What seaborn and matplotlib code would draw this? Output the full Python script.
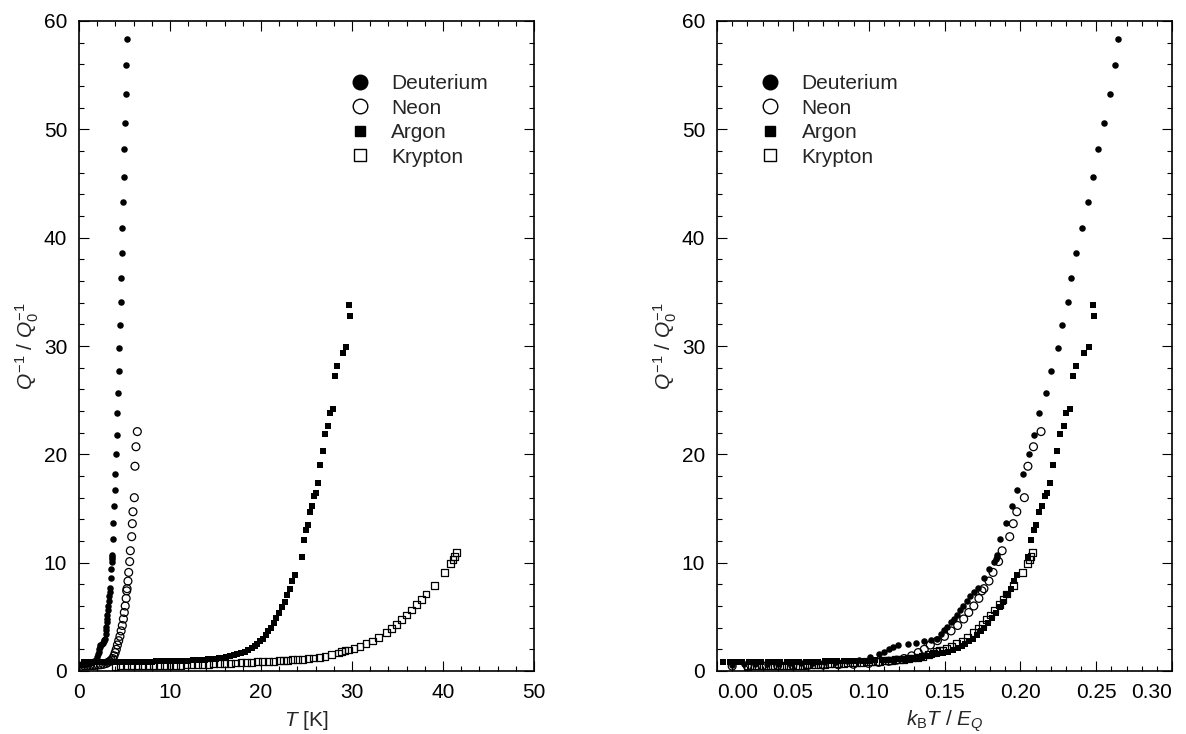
import numpy as np
import matplotlib
matplotlib.use('Agg')
import matplotlib.pyplot as plt
from matplotlib.ticker import MultipleLocator
from matplotlib.lines import Line2D
import seaborn as sns

# Q^-1 / Q0^-1 versus T [K]
deut_T = [0.2, 0.35, 0.5, 0.65, 0.8, 0.95, 1.1, 1.25, 1.4, 1.55, 1.7, 1.85, 2.0,
          2.12, 2.18, 2.24, 2.30, 2.36,
          2.5, 2.6, 2.7, 2.8, 2.87, 2.92, 2.96, 3.00, 3.05, 3.09, 3.13, 3.17, 3.21, 3.26,
          3.30, 3.36, 3.41, 3.48, 3.55, 3.62, 3.64, 3.65, 3.66,
          3.70, 3.77, 3.85, 3.92, 3.99, 4.07, 4.14, 4.21, 4.29, 4.36, 4.45, 4.51, 4.58,
          4.62, 4.69, 4.76, 4.84, 4.91, 4.98, 5.05, 5.13, 5.20, 5.24]
deut_Q = [0.60, 0.62, 0.65, 0.63, 0.68, 0.70, 0.72, 0.75, 0.80, 0.85, 0.95, 1.05, 1.25,
          1.6, 1.8, 2.0, 2.2, 2.4,
          2.45, 2.6, 2.75, 2.85, 3.0, 3.4, 3.8, 4.1, 4.5, 4.8, 5.2, 5.6, 6.0, 6.5,
          6.9, 7.3, 7.7, 8.6, 9.4, 10.1, 10.3, 10.5, 10.7,
          12.2, 13.7, 15.2, 16.7, 18.2, 20.0, 21.8, 23.8, 25.7, 27.7, 29.8, 31.9, 34.1,
          36.3, 38.6, 40.9, 43.3, 45.6, 48.2, 50.6, 53.3, 55.9, 58.3]

neon_T = [0.3, 0.6, 0.9, 1.2, 1.5, 1.8, 2.1, 2.4, 2.7, 3.0, 3.2, 3.4, 3.55,
          3.7, 3.85, 3.98, 4.1, 4.22, 4.36, 4.5, 4.63, 4.76, 4.88, 4.98, 5.08, 5.18,
          5.24, 5.28, 5.38, 5.46, 5.57, 5.64, 5.79, 5.86, 5.93, 6.08, 6.15, 6.26, 6.41]
neon_Q = [0.45, 0.47, 0.48, 0.50, 0.50, 0.52, 0.55, 0.58, 0.62, 0.70, 0.80, 0.90, 1.0,
          1.15, 1.4, 1.7, 2.0, 2.4, 2.8, 3.2, 3.7, 4.2, 4.8, 5.4, 6.0, 6.7,
          7.4, 7.6, 8.3, 9.1, 10.1, 11.1, 12.4, 13.6, 14.7, 16.0, 18.9, 20.7, 22.1]

argon_T = [0.5, 1.0, 1.5, 2.0, 2.5, 3.0, 3.5, 4.0, 4.5, 5.0, 5.5, 6.0, 6.5, 7.0, 7.5,
           8.0, 8.5, 9.0, 9.5, 10.0, 10.5, 11.0, 11.5, 12.0, 12.5, 13.0,
           13.4, 13.8, 14.2, 14.6, 15.0, 15.4, 15.8, 16.2, 16.6, 17.0, 17.4, 17.8, 18.2,
           18.6, 19.0, 19.3, 19.6, 19.9, 20.2, 20.5, 20.8, 21.1, 21.4, 21.7, 22.0, 22.3,
           22.6, 22.9, 23.2, 23.45, 23.7,
           24.54, 24.76, 24.98, 25.20, 25.42, 25.64, 25.86, 26.04, 26.30, 26.52, 26.85,
           27.07, 27.40, 27.55, 27.88, 28.12, 28.36, 28.98, 29.37, 29.70, 29.77]
argon_Q = [0.80, 0.80, 0.82, 0.82, 0.83, 0.83, 0.84, 0.84, 0.85, 0.85, 0.85, 0.86, 0.86,
           0.86, 0.87, 0.87, 0.88, 0.88, 0.89, 0.90, 0.91, 0.92, 0.93, 0.95, 0.97, 1.00,
           1.02, 1.05, 1.08, 1.11, 1.15, 1.19, 1.24, 1.30, 1.37, 1.45, 1.54, 1.64, 1.75,
           1.90, 2.1, 2.3, 2.5, 2.75, 3.0, 3.3, 3.65, 4.0, 4.45, 4.9, 5.4, 5.9,
           6.4, 7.0, 7.6, 8.3, 8.9,
           10.5, 12.1, 13.0, 13.5, 14.7, 15.2, 16.2, 16.4, 17.4, 19.0, 20.3,
           21.9, 22.6, 23.8, 24.2, 27.2, 28.2, 29.4, 29.9, 33.8, 32.8]

krypton_T = [4.0, 4.6, 5.2, 5.8, 6.4, 7.0, 7.6, 8.2, 8.8, 9.4, 10.0, 10.6, 11.2, 11.8,
             12.4, 13.0, 13.6, 14.2, 14.8, 15.4, 16.0, 16.6, 17.2, 17.8, 18.4, 19.0,
             19.6, 20.2, 20.8, 21.4, 22.0, 22.5, 22.9, 23.44, 23.99, 24.58, 25.20,
             25.75, 26.41, 27.03, 27.76, 28.5, 28.87, 29.23, 29.60, 30.22, 30.88, 31.54,
             32.27, 32.93, 33.74, 34.36, 34.91, 35.46, 36.0, 36.55, 37.11, 37.62, 38.13,
             39.04, 40.14, 40.8, 41.1, 41.3, 41.5]
krypton_Q = [0.45, 0.46, 0.46, 0.47, 0.47, 0.48, 0.49, 0.50, 0.51, 0.52, 0.53, 0.54,
             0.55, 0.57, 0.58, 0.60, 0.62, 0.64, 0.66, 0.68, 0.70, 0.72, 0.74, 0.77,
             0.79, 0.82, 0.84, 0.87, 0.90, 0.92, 0.94, 0.96, 0.99, 1.02, 1.05, 1.08,
             1.14, 1.20, 1.26, 1.35, 1.48, 1.66, 1.76, 1.85, 1.94, 2.09, 2.25, 2.50,
             2.77, 3.11, 3.54, 3.94, 4.31, 4.77, 5.17, 5.63, 6.16, 6.61, 7.11,
             7.85, 9.08, 9.94, 10.3, 10.6, 10.9]

# quantum energy scale E_Q / k_B in K for each gas
eq_deut, eq_neon, eq_argon, eq_krypton = 19.8, 30.0, 119.7, 199.5

gases = ['Deuterium', 'Neon', 'Argon', 'Krypton']
styles = {
    'Deuterium': dict(marker='o', s=22, color='black', edgecolor='black', linewidth=0),
    'Neon': dict(marker='o', s=32, facecolor='none', edgecolor='black', linewidth=0.9),
    'Argon': dict(marker='s', s=15, color='black', edgecolor='black', linewidth=0),
    'Krypton': dict(marker='s', s=25, facecolor='none', edgecolor='black', linewidth=0.9),
}
data = {
    'Deuterium': (np.array(deut_T), np.array(deut_Q), eq_deut),
    'Neon': (np.array(neon_T), np.array(neon_Q), eq_neon),
    'Argon': (np.array(argon_T), np.array(argon_Q), eq_argon),
    'Krypton': (np.array(krypton_T), np.array(krypton_Q), eq_krypton),
}

sns.set_style('ticks')
plt.rcParams['font.family'] = ['Liberation Sans', 'DejaVu Sans']
plt.rcParams['mathtext.fontset'] = 'custom'
plt.rcParams['mathtext.rm'] = 'Liberation Sans'
plt.rcParams['mathtext.it'] = 'Liberation Sans:italic'
fs = 15

fig = plt.figure(figsize=(11.86, 7.34), dpi=100)
ax1 = fig.add_axes([79 / 1186, 63 / 734, 455 / 1186, 650 / 734])
ax2 = fig.add_axes([717 / 1186, 63 / 734, 455 / 1186, 650 / 734])

for g in gases:
    T, Q, eq = data[g]
    sns.scatterplot(x=T, y=Q, ax=ax1, legend=False, **styles[g])
    sns.scatterplot(x=T / eq, y=Q, ax=ax2, legend=False, **styles[g])

ax1.xaxis.set_major_locator(MultipleLocator(10))
ax1.xaxis.set_minor_locator(MultipleLocator(2))
ax2.xaxis.set_minor_locator(MultipleLocator(0.01))
ax2.set_xticks([0.0, 0.05, 0.10, 0.15, 0.20, 0.25, 0.30])
lbls = ax2.set_xticklabels(['0.00', '0.05', '0.10', '0.15', '0.20', '0.25', '0.30'])
lbls[0].set_horizontalalignment('left')
lbls[-1].set_horizontalalignment('right')
ax1.set_xlim(0, 50)
ax2.set_xlim(0, 0.30)

for ax in (ax1, ax2):
    ax.set_ylim(0, 60)
    ax.yaxis.set_major_locator(MultipleLocator(10))
    ax.yaxis.set_minor_locator(MultipleLocator(2))
    ax.tick_params(which='both', direction='in', top=True, right=True,
                   labelsize=fs, colors='black')
    ax.tick_params(which='major', length=7, width=0.8, pad=8.5)
    ax.tick_params(which='minor', length=3.5, width=0.8)
    for sp in ax.spines.values():
        sp.set_linewidth(1.2)
        sp.set_color('black')
    ax.set_ylabel(r'$Q^{-1}$ / $Q_0^{-1}$', fontsize=fs, labelpad=2)

ax1.set_xlabel(r'$T$ [K]', fontsize=fs, labelpad=5)
ax2.set_xlabel(r'$k_\mathrm{B}T$ / $E_Q$', fontsize=fs, labelpad=5)

handles = [
    Line2D([], [], ls='none', marker='o', ms=10.5, color='black'),
    Line2D([], [], ls='none', marker='o', ms=10.5, mfc='none', mec='black', mew=1),
    Line2D([], [], ls='none', marker='s', ms=7.5, color='black'),
    Line2D([], [], ls='none', marker='s', ms=8, mfc='none', mec='black', mew=1),
]
for ax, xpos in ((ax1, 0.585), (ax2, 0.085)):
    ax.legend(handles, gases, loc='upper left', bbox_to_anchor=(xpos, 0.918),
              frameon=False, fontsize=fs, handlelength=1.4, handletextpad=0.8,
              labelspacing=0.26, borderpad=0, borderaxespad=0)

fig.savefig('out.png', dpi=100)
